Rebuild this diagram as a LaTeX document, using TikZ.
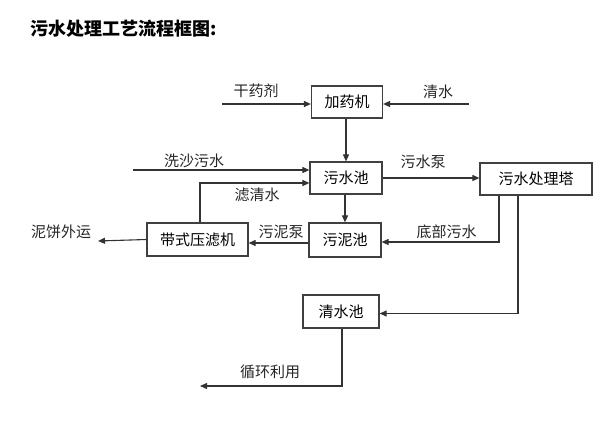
\documentclass[tikz,border=0pt]{standalone}
\usepackage{fontspec}
\setmainfont{Noto Sans CJK SC}
\usetikzlibrary{arrows.meta}
\tikzset{
  box/.style={draw=black!75, line width=1.2pt, inner sep=0pt, font=\fontsize{15}{16}\selectfont},
  lbl/.style={inner sep=0pt, font=\fontsize{15}{16}\selectfont, text=black!85},
  arr/.style={draw=black!80, line width=1.1pt, -{Triangle[length=7pt,width=6pt]}},
}
\begin{document}
\begin{tikzpicture}[x=1pt,y=-1pt]
\useasboundingbox (0,0) rectangle (603,426);
\node[anchor=west, inner sep=0pt, font=\fontsize{18}{19}\selectfont\bfseries] (title) at (30,29) {污水处理工艺流程框图:};
% boxes
\node[box, minimum width=71pt, minimum height=32pt] (jy) at (347,102) {加药机};
\node[box, minimum width=72pt, minimum height=32pt] (wsc) at (346,178) {污水池};
\node[box, minimum width=112pt, minimum height=32pt] (clt) at (536,179) {污水处理塔};
\node[box, minimum width=72pt, minimum height=34pt] (wnc) at (345,240) {污泥池};
\node[box, minimum width=101pt, minimum height=33pt] (ylj) at (197.5,239.5) {带式压滤机};
\node[box, minimum width=76pt, minimum height=33pt] (qsc) at (341,311.5) {清水池};
% free ends
\coordinate (a1) at (222,104);
\coordinate (a2) at (469,104);
\coordinate (xs) at (133,170);
\coordinate (nb) at (98,241);
\coordinate (xh) at (200,386);
% connectors
\draw[arr] (a1) -- (a1 -| jy.west);
\draw[arr] (a2) -- (a2 -| jy.east);
\draw[arr] (jy.south -| wsc.north) -- (wsc.north);
\draw[arr] (xs) -- (xs -| wsc.west);
\draw[arr] ([xshift=2.5pt]ylj.north) |- ([yshift=-5pt]wsc.west);
\draw[arr] (wsc.east) -- (wsc.east -| clt.west);
\draw[arr] (wsc.south -| wnc.north) -- (wnc.north);
\draw[arr] ([xshift=-37pt]clt.south) |- ([yshift=-2pt]wnc.east);
\draw[arr] ([yshift=-3pt]wnc.west) -- ([yshift=-3pt]wnc.west -| ylj.east);
\draw[arr] (ylj.west) -- (nb);
\draw[arr] ([xshift=-18pt]clt.south) |- ([yshift=-2pt]qsc.east);
\draw[arr] ([xshift=1pt]qsc.south) |- (xh);
% labels
\node[lbl] (l1) at (256,91) {干药剂};
\node[lbl] (l2) at (438,92) {清水};
\node[lbl] (l3) at (194,161) {洗沙污水};
\node[lbl] (l4) at (257,195) {滤清水};
\node[lbl] (l5) at (423,162) {污水泵};
\node[lbl] (l6) at (446.5,232) {底部污水};
\node[lbl] (l7) at (281,232) {污泥泵};
\node[lbl] (l8) at (61,232) {泥饼外运};
\node[lbl] (l9) at (270,372) {循环利用};
\end{tikzpicture}
\end{document}
